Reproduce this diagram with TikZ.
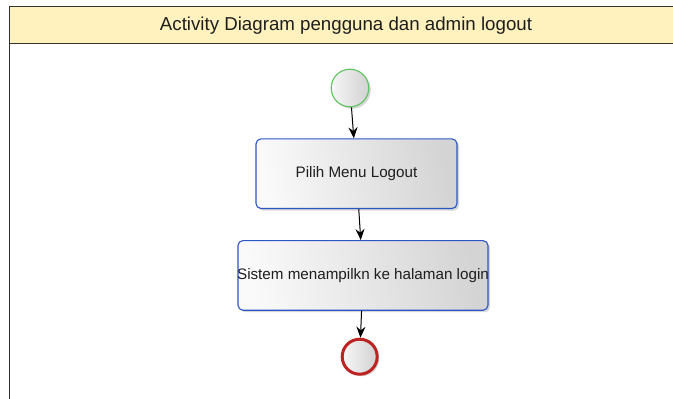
\documentclass[tikz,border=0pt]{standalone}
\usepackage{fontspec}
\setmainfont{Liberation Sans}
\usetikzlibrary{arrows.meta,shadows}
\definecolor{hdrfill}{RGB}{255,242,190}
\definecolor{frameline}{RGB}{50,50,50}
\definecolor{boxline}{RGB}{45,85,200}
\definecolor{startline}{RGB}{95,195,95}
\definecolor{endline}{RGB}{190,35,35}
\definecolor{txt}{RGB}{30,30,30}
\tikzset{
  actbox/.style={draw=boxline, line width=1.1pt, rounded corners=5pt,
    shading=axis, left color=black!2, right color=black!17, shading angle=100,
    drop shadow={shadow xshift=2pt, shadow yshift=-2pt, fill=black!35, opacity=.45},
    inner sep=0pt, text=txt, font=\fontsize{15.2}{18}\selectfont},
  startnode/.style={circle, draw=startline, line width=1.1pt, minimum size=37.6pt, inner sep=0pt,
    left color=black!3, right color=black!18,
    drop shadow={shadow xshift=2pt, shadow yshift=-2pt, fill=black!35, opacity=.45}},
  endnode/.style={circle, draw=endline, line width=3pt, minimum size=35pt, inner sep=0pt,
    left color=black!3, right color=black!18,
    drop shadow={shadow xshift=2pt, shadow yshift=-2pt, fill=black!35, opacity=.45}},
  flow/.style={-{Stealth[length=11pt,width=9pt]}, line width=1pt, black},
}
\begin{document}
\begin{tikzpicture}[x=1pt,y=-1pt]
\useasboundingbox (0,0) rectangle (673,399);
\fill[white] (0,0) rectangle (673,399);
% frame
\fill[hdrfill] (9.5,6.5) rectangle (690,43.5);
\draw[frameline, line width=1.6pt] (9.5,420) -- (9.5,6.5) -- (690,6.5);
\draw[frameline, line width=1.6pt] (9.5,43.5) -- (690,43.5);
\node[text=txt, font=\fontsize{18.7}{22}\selectfont] (title) at (346,25.5) {Activity Diagram pengguna dan admin logout};
% nodes
\node[startnode] (start) at (350,88) {};
\node[actbox, minimum width=201pt, minimum height=69.6pt] (box1) at (356.5,173.7) {\makebox[0pt][c]{Pilih Menu Logout}};
\node[actbox, minimum width=250pt, minimum height=69.6pt] (box2) at (363,275.4) {\makebox[0pt][c]{Sistem menampilkn ke halaman login}};
\node[endnode] (end) at (359.7,356.7) {};
% flows
\draw[flow] (start) -- (box1);
\draw[flow] (box1) -- (box2);
\draw[flow] (box2) -- (end);
\end{tikzpicture}
\end{document}
